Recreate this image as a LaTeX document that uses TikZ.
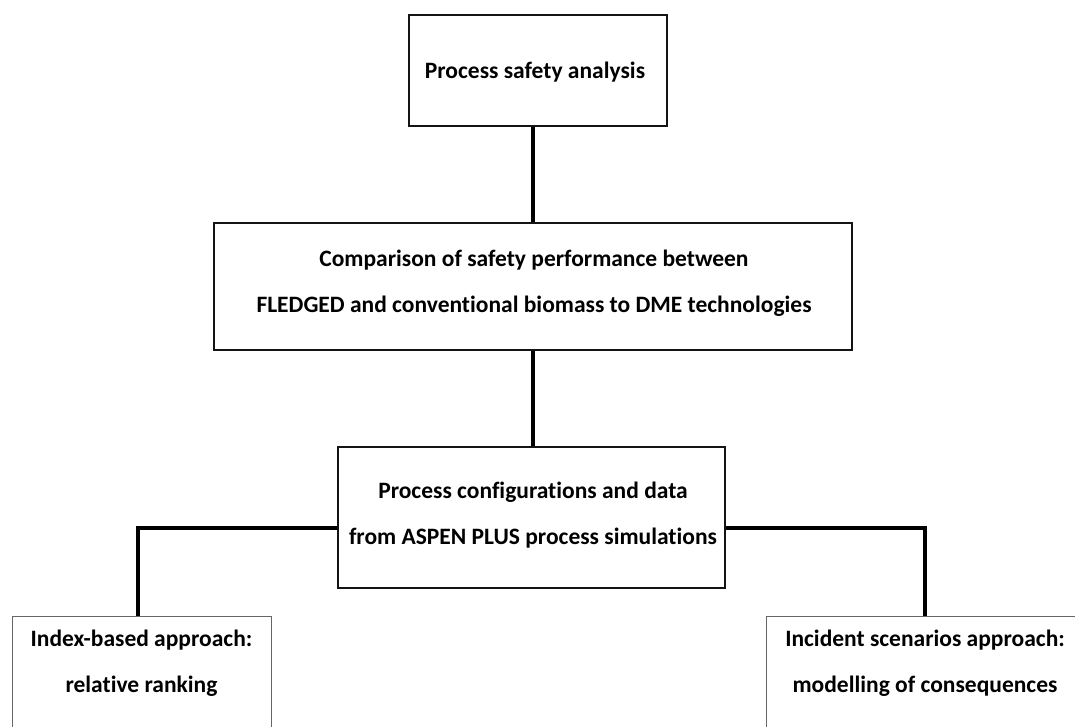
\documentclass[tikz,border=0pt]{standalone}
\usepackage{fontspec}
\setmainfont[Ligatures=NoCommon]{Carlito}
\begin{document}
\begin{tikzpicture}[x=1pt,y=-1pt,
  mainbox/.style={draw=black!92, line width=2.4pt, rectangle, inner sep=0pt},
  thinbox/.style={draw=black!60, line width=1.2pt, rectangle, inner sep=0pt},
  boxtext/.style={align=center, inner sep=0pt, font=\fontsize{23.5}{46}\selectfont\bfseries},
  link/.style={draw=black, line width=3.4pt}]
\useasboundingbox (0,0) rectangle (1075,726);
\clip (0,0) rectangle (1075,726);
% top box
\node[mainbox, minimum width=258pt, minimum height=111pt] (b1) at (538,70.5) {};
\node[boxtext] (t1) at (535,72) {Process safety analysis};
% comparison box
\node[mainbox, minimum width=638pt, minimum height=127pt] (b2) at (533,286.5) {};
\node[boxtext] (t2) at (534,283) {Comparison of safety performance between\\FLEDGED and conventional biomass to DME technologies};
% process configurations box
\node[mainbox, minimum width=387pt, minimum height=141pt] (b3) at (531.5,517.5) {};
\node[boxtext] (t3) at (533,515) {Process configurations and data\\from ASPEN PLUS process simulations};
% bottom boxes (cut off by the page)
\node[thinbox, minimum width=259pt, minimum height=160pt, anchor=north west] (lbox) at (12,616) {};
\node[boxtext] (lt) at (141.5,663) {Index-based approach:\\relative ranking};
\node[thinbox, minimum width=318pt, minimum height=160pt, anchor=north west] (rbox) at (766,616) {};
\node[boxtext] (rt) at (925,663) {Incident scenarios approach:\\modelling of consequences};
% connectors
\draw[link] (b2.north) -- (b2.north |- b1.south);
\draw[link] (b2.south) -- (b2.south |- b3.north);
\coordinate (lc) at (138,616);
\coordinate (rc) at (925,616);
\draw[link] ([yshift=-10.5pt]b3.west) -| (lc);
\draw[link] ([yshift=-10.5pt]b3.east) -| (rc);
\end{tikzpicture}
\end{document}
